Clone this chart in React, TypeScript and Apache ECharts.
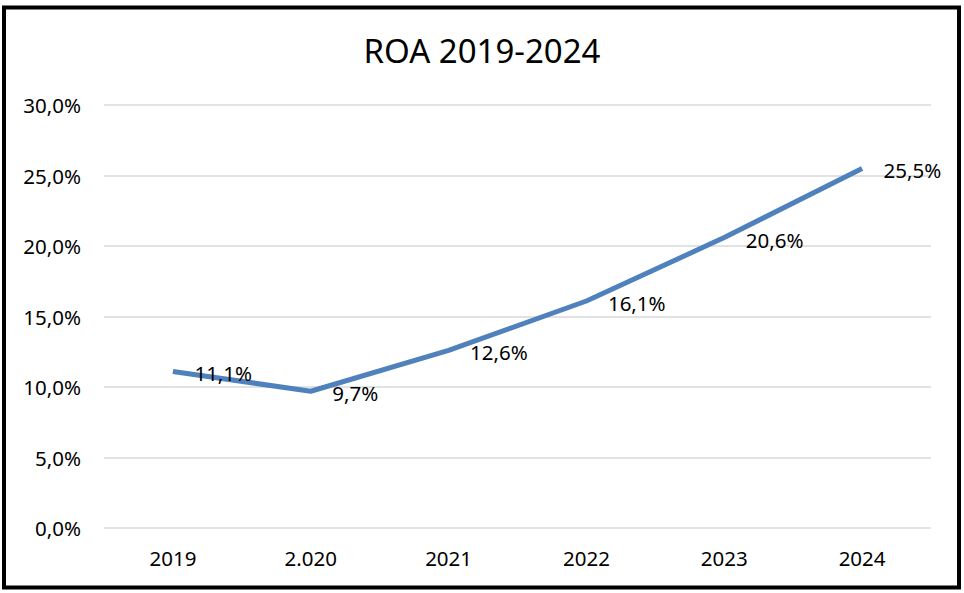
import React, { useEffect, useRef } from "react";
import * as echarts from "echarts";

const categories = ["2019", "2.020", "2021", "2022", "2023", "2024"];
const roaValues = [11.1, 9.7, 12.6, 16.1, 20.6, 25.5];
const titleText = "ROA 2019-2024";

const fmt = (v: number) => v.toFixed(1).replace(".", ",") + "%";

export default function App() {
  const ref = useRef<HTMLDivElement>(null);
  useEffect(() => {
    const chart = echarts.init(ref.current!, null, { renderer: "svg" });
    const font = "Noto Sans";
    chart.setOption({
      animation: false,
      backgroundColor: "#ffffff",
      title: {
        text: titleText,
        left: "center",
        top: 29,
        textStyle: { fontFamily: font, fontSize: 33, fontWeight: "normal", color: "#000" },
      },
      grid: { left: 104, right: 33, top: 105, bottom: 65 },
      xAxis: {
        type: "category",
        data: categories,
        boundaryGap: true,
        axisLine: { show: false },
        axisTick: { show: false },
        axisLabel: { fontFamily: font, fontSize: 20.5, color: "#000", margin: 19 },
      },
      yAxis: {
        type: "value",
        min: 0,
        max: 30,
        interval: 5,
        axisLine: { show: false },
        axisTick: { show: false },
        splitLine: { lineStyle: { color: "#d9d9d9", width: 1.5 } },
        axisLabel: {
          fontFamily: font,
          fontSize: 20.5,
          color: "#000",
          margin: 23,
          formatter: (v: number) => fmt(v),
        },
      },
      series: [
        {
          type: "line",
          data: roaValues,
          symbol: "circle",
          symbolSize: 1,
          showSymbol: true,
          itemStyle: { color: "rgba(0,0,0,0)", borderWidth: 0 },
          lineStyle: { color: "#4f81bd", width: 5 },
          label: {
            show: true,
            position: "right",
            distance: 21,
            offset: [0, 2],
            fontFamily: font,
            fontSize: 20.5,
            color: "#000",
            formatter: (p: any) => fmt(p.value),
          },
        },
      ],
      graphic: [
        {
          type: "rect",
          shape: { x: 4, y: 7.5, width: 955, height: 580 },
          style: { fill: "none", stroke: "#000", lineWidth: 4 },
          z: 100,
        },
      ],
    });
    return () => chart.dispose();
  }, []);
  return (
    <div
      ref={ref}
      style={{ position: "fixed", left: 0, top: 0, width: 964, height: 593 }}
    />
  );
}
